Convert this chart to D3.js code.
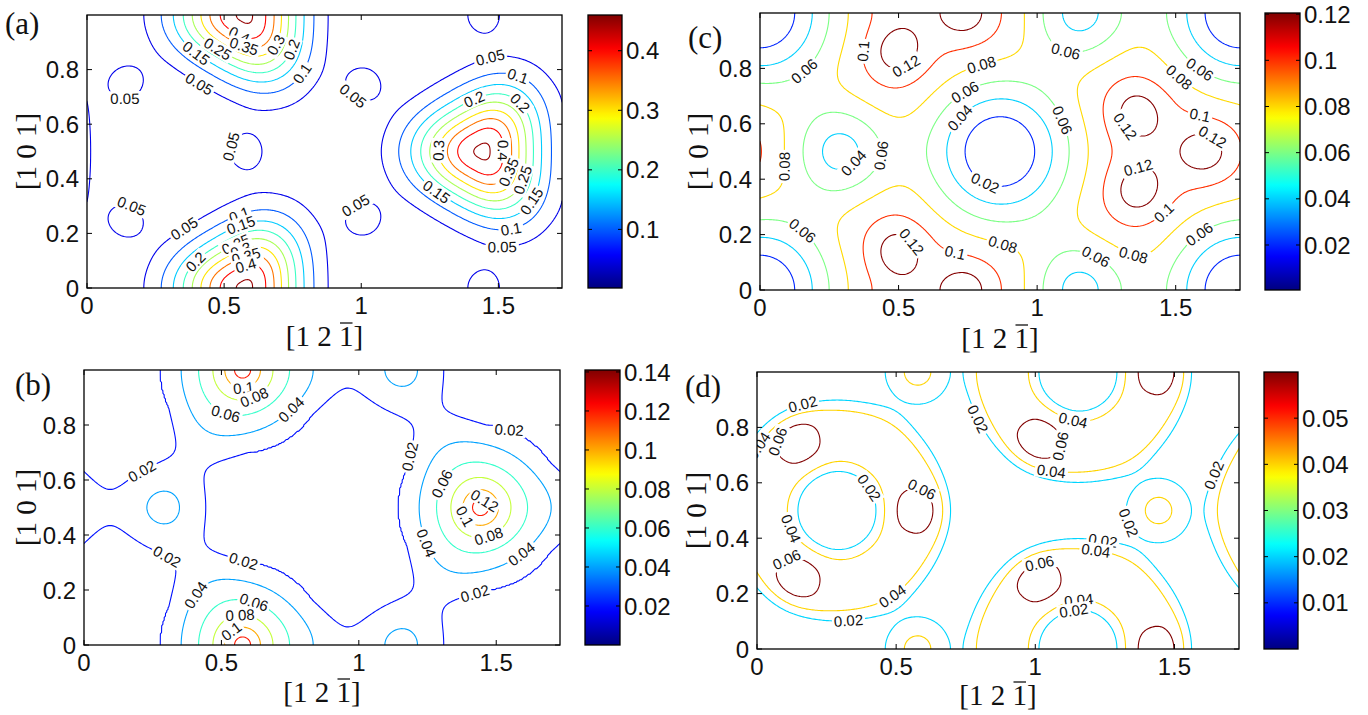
<!DOCTYPE html>
<html>
<head>
<meta charset="utf-8">
<script src="https://cdn.jsdelivr.net/npm/d3@7"></script>
<style>
body { margin: 0; background: #fff; }
svg text { font-family: "Liberation Sans", Arial, sans-serif; fill: #111; }
.serif { font-family: "Liberation Serif", "Times New Roman", serif; }
</style>
</head>
<body>
<svg id="fig" width="1368" height="715"></svg>
<script>
const SQ3 = Math.sqrt(3);   // length of the [1 2 -1] side

const xTicks = [0, 0.5, 1, 1.5];
const yTicks = [0, 0.2, 0.4, 0.6, 0.8];

// each site: x, y, height, width, triangularity, power, ring radius
// panel (a)
const baseA = 0;
const sitesA = [
  [0.577, 0.0, 0.458, 0.158, 0.1],
  [1.443, 0.5, 0.458, 0.158, 0.1],
  [0.577, 0.5, 0.065, 0.065, 0],
  [1.443, 0.0, 0.065, 0.065, 0],
  [1.010, 0.25, 0.065, 0.065, 0],
  [1.010, 0.75, 0.065, 0.065, 0],
  [0.144, 0.25, 0.065, 0.065, 0],
  [0.144, 0.75, 0.065, 0.065, 0]
];
const levelsA = [0.05, 0.1, 0.15, 0.2, 0.25, 0.3, 0.35, 0.4, 0.45];
const cbarRangeA = [0.0016, 0.46];
const cbarTicksA = [0.1, 0.2, 0.3, 0.4];
const labelsA = [
  [0.557,0.93,0.4],[0.573,0.886,0.35],[0.691,0.889,0.3],[0.462,0.852,0.25],[0.754,0.87,0.2],
  [0.383,0.84,0.15],[0.778,0.79,0.1],[0.399,0.73,0.05],[0.138,0.706,0.05],[1.0,0.742,0.05],
  [0.533,0.516,0.05],[1.474,0.828,0.05],[1.57,0.773,0.1],[1.403,0.712,0.2],[1.577,0.675,0.2],
  [1.284,0.504,0.3],[1.514,0.504,0.4],[1.522,0.431,0.35],[1.593,0.394,0.25],[1.261,0.333,0.15],
  [1.617,0.321,0.15],[1.545,0.223,0.1],[1.514,0.175,0.05],[0.161,0.297,0.05],[1.008,0.254,0.05],
  [0.351,0.223,0.05],[0.549,0.284,0.1],[0.557,0.242,0.15],[0.533,0.181,0.25],[0.557,0.15,0.3],
  [0.581,0.114,0.35],[0.581,0.077,0.4],[0.391,0.101,0.2]
];

// panel (b)
const baseB = 0;
const sitesB = [
  [0.577, 0.0, 0.078, 0.05, 0, 1],
  [1.443, 0.5, 0.078, 0.05, 0, 1],
  [0.577, 0.0, 0.062, 0.19, 0],
  [1.443, 0.5, 0.062, 0.19, 0],
  [1.155, 0.0, 0.043, 0.11, 0],
  [0.289, 0.5, 0.043, 0.11, 0],
  [0.0, 0.5, 0.009, 0.1, 0],
  [0.433, 0.75, 0.009, 0.1, 0],
  [0.433, 0.25, 0.009, 0.1, 0],
  [1.299, 0.25, 0.009, 0.1, 0],
  [1.299, 0.75, 0.009, 0.1, 0],
  [0.866, 0.0, 0.009, 0.1, 0]
];
const levelsB = [0.02, 0.04, 0.06, 0.08, 0.1, 0.12, 0.14];
const cbarRangeB = [0, 0.141];
const cbarTicksB = [0.02, 0.04, 0.06, 0.08, 0.1, 0.12, 0.14];
const labelsB = [
  [0.583,0.9,0.1],[0.63,0.876,0.08],[0.512,0.828,0.06],[0.764,0.846,0.04],[1.551,0.792,0.02],
  [1.173,0.688,0.02],[0.213,0.628,0.02],[1.291,0.592,0.06],[1.465,0.537,0.12],[1.346,0.446,0.1],
  [1.48,0.373,0.08],[1.236,0.367,0.04],[1.606,0.313,0.04],[0.283,0.288,0.02],[0.583,0.313,0.02],
  [1.425,0.179,0.02],[0.402,0.185,0.04],[0.622,0.167,0.06],[0.567,0.125,0.08],[0.512,0.082,0.1]
];

// panel (c)
const baseC = 0.1;
const sitesC = [
  [0.0, 0.0, -0.1, 0.19, 0],
  [0.866, 0.5, -0.1, 0.19, 0],
  [1.155, 0.0, -0.07, 0.13, 0],
  [0.289, 0.5, -0.07, 0.13, 0],
  [0.577, 0.0, 0.013, 0.22, -0.25],
  [1.443, 0.5, 0.013, 0.22, -0.25],
  [0.742, 0.0, 0.025, 0.07, 0],
  [0.4945, 0.1429, 0.025, 0.07, 0],
  [0.4945, 0.8571, 0.025, 0.07, 0],
  [1.608, 0.5, 0.025, 0.07, 0],
  [1.3605, 0.6429, 0.025, 0.07, 0],
  [1.3605, 0.3571, 0.025, 0.07, 0]
];
const levelsC = [0.02, 0.04, 0.06, 0.08, 0.1, 0.12];
const cbarRangeC = [0.0005, 0.1205];
const cbarTicksC = [0.02, 0.04, 0.06, 0.08, 0.1, 0.12];
const labelsC = [
  [0.35,0.864,0.1],[0.516,0.828,0.12],[0.153,0.798,0.06],[0.8,0.81,0.08],[0.737,0.719,0.06],
  [0.721,0.622,0.04],[1.107,0.876,0.06],[1.588,0.798,0.06],[1.517,0.773,0.08],[1.596,0.67,0.1],
  [1.328,0.598,0.12],[1.62,0.531,0.12],[1.375,0.404,0.12],[1.084,0.61,0.06],[0.082,0.446,0.08],
  [0.326,0.47,0.04],[0.421,0.488,0.06],[0.815,0.392,0.02],[1.478,0.258,0.1],[1.588,0.198,0.06],
  [1.352,0.143,0.08],[0.145,0.204,0.06],[0.524,0.155,0.12],[0.713,0.173,0.1],[0.871,0.149,0.08],
  [1.202,0.101,0.06]
];

// panel (d)
const baseD = 0;
const sitesD = [
  [0.289, 0.5, 0.05, 0.11, 0, 4, 0.27],
  [1.155, 0.0, 0.05, 0.11, 0, 4, 0.27],
  [0.577, 0.5, 0.02, 0.07, 0],
  [1.443, 0.0, 0.02, 0.07, 0],
  [1.010, 0.25, 0.02, 0.07, 0],
  [1.010, 0.75, 0.02, 0.07, 0],
  [0.144, 0.25, 0.02, 0.07, 0],
  [0.144, 0.75, 0.02, 0.07, 0],
  [0.577, 0.0, 0.046, 0.09, 0],
  [1.443, 0.5, 0.046, 0.09, 0]
];
const levelsD = [0.02, 0.04, 0.06];
const cbarRangeD = [0, 0.06];
const cbarTicksD = [0.01, 0.02, 0.03, 0.04, 0.05];
const labelsD = [
  [0.162,0.893,0.02],[0.028,0.719,0.04],[0.091,0.743,0.06],[0.8,0.833,0.02],[1.131,0.803,0.04],
  [1.068,0.737,0.06],[1.06,0.659,0.04],[1.65,0.624,0.02],[0.359,0.552,0.02],[0.58,0.552,0.06],
  [1.351,0.462,0.02],[0.091,0.42,0.04],[1.241,0.378,0.02],[0.123,0.288,0.06],[1.02,0.288,0.06],
  [1.209,0.294,0.04],[0.461,0.228,0.04],[1.154,0.198,0.04],[0.328,0.114,0.02],[1.146,0.09,0.02]
];

const panels = [
  {name: "a", base: baseA, sites: sitesA, levels: levelsA, range: cbarRangeA, cbTicks: cbarTicksA, labels: labelsA,
   plot: [87, 15, 562, 288], cbar: [588, 15, 622, 288], letter: [5, 34], xlab: 346, ylab: 36},
  {name: "c", base: baseC, sites: sitesC, levels: levelsC, range: cbarRangeC, cbTicks: cbarTicksC, labels: labelsC,
   plot: [760, 13, 1240, 290], cbar: [1265, 13, 1300, 290], letter: [688, 48], xlab: 348, ylab: 708},
  {name: "b", base: baseB, sites: sitesB, levels: levelsB, range: cbarRangeB, cbTicks: cbarTicksB, labels: labelsB,
   plot: [84, 370, 560, 645], cbar: [585, 370, 620, 645], letter: [15, 395], xlab: 702, ylab: 36},
  {name: "d", base: baseD, sites: sitesD, levels: levelsD, range: cbarRangeD, cbTicks: cbarTicksD, labels: labelsD,
   plot: [757, 372, 1239, 649], cbar: [1264, 372, 1298, 649], letter: [685, 397], xlab: 705, ylab: 706}
];

const NX = 347, NY = 201;
const svg = d3.select("#fig");
const defs = svg.append("defs");

function jet(t) {
  const c = v => Math.max(0, Math.min(1, v));
  return d3.rgb(255 * c(1.5 - Math.abs(4 * t - 3)), 255 * c(1.5 - Math.abs(4 * t - 2)), 255 * c(1.5 - Math.abs(4 * t - 1)));
}

function field(sites, base, x, y) {
  let v = base;
  for (const s of sites) {
    const [sx, sy, h, w, e] = s;
    const p = s[5] || 2, R = s[6] || 0;
    for (let ix = -1; ix <= 1; ix++) {
      for (let iy = -1; iy <= 1; iy++) {
        const dx = x - (sx + ix * SQ3), dy = y - (sy + iy);
        let r = Math.sqrt(dx * dx + dy * dy);
        if (Math.abs(r - R) - Math.abs(e) * r > 6 * w) continue;
        if (e) r *= 1 + e * Math.cos(3 * Math.atan2(dy, dx));
        v += h * Math.exp(-0.5 * Math.pow(Math.abs(r - R) / w, p));
      }
    }
  }
  return v;
}

function drawPanel(p) {
  const [x0, y0, x1, y1] = p.plot;
  const xs = d3.scaleLinear().domain([0, SQ3]).range([x0, x1]);
  const ys = d3.scaleLinear().domain([0, 1]).range([y1, y0]);
  const color = v => jet((v - p.range[0]) / (p.range[1] - p.range[0]));

  const vals = new Float64Array(NX * NY);
  for (let j = 0; j < NY; j++) {
    const y = j / (NY - 1);
    for (let i = 0; i < NX; i++) vals[j * NX + i] = field(p.sites, p.base, i / (NX - 1) * SQ3, y);
  }
  const contours = d3.contours().size([NX, NY]).thresholds(p.levels)(vals);
  const toPx = (gx, gy) => [xs((gx - 0.5) / (NX - 1) * SQ3), ys((gy - 0.5) / (NY - 1))];
  const path = d3.geoPath(d3.geoTransform({
    point: function(gx, gy) { const q = toPx(gx, gy); this.stream.point(q[0], q[1]); }
  }));

  defs.append("clipPath").attr("id", "clip" + p.name)
    .append("rect").attr("x", x0).attr("y", y0).attr("width", x1 - x0).attr("height", y1 - y0);
  const g = svg.append("g").attr("clip-path", "url(#clip" + p.name + ")");

  g.selectAll("path.c").data(contours).join("path")
    .attr("class", "c")
    .attr("d", path)
    .attr("fill", "none")
    .attr("stroke", d => color(d.value))
    .attr("stroke-width", 1.1);

  // inline labels, turned along the nearest line of their level
  p.labels.forEach(([lx, ly, lev]) => {
    const tx = xs(lx), ty = ys(ly);
    const c = contours.find(d => Math.abs(d.value - lev) < 1e-9);
    let best = null, bd = 26;
    if (c) {
      c.coordinates.forEach(poly => poly.forEach(ring => {
        const pts = ring.map(q => toPx(q[0], q[1]));
        for (let k = 1; k < pts.length; k++) {
          const [ax, ay] = pts[k - 1], [bx, by] = pts[k];
          const vx = bx - ax, vy = by - ay, L = vx * vx + vy * vy;
          if (L === 0) continue;
          let u = ((tx - ax) * vx + (ty - ay) * vy) / L;
          u = Math.max(0, Math.min(1, u));
          const px = ax + u * vx, py = ay + u * vy;
          const dist = Math.hypot(px - tx, py - ty);
          if (dist < bd && px > x0 && px < x1 && py > y0 && py < y1) {
            bd = dist; best = [px, py, Math.atan2(vy, vx) * 180 / Math.PI];
          }
        }
      }));
    }
    let [px, py, ang] = best || [tx, ty, 0];
    if (ang > 90) ang -= 180;
    if (ang < -90) ang += 180;
    const lg = g.append("g").attr("transform", `translate(${px},${py}) rotate(${ang})`);
    const t = lg.append("text").attr("text-anchor", "middle").attr("dy", "0.36em")
      .style("font-size", "15px").text(String(lev));
    const w = t.node().getComputedTextLength();
    lg.insert("rect", "text").attr("x", -w / 2 - 2).attr("y", -7.5).attr("width", w + 4).attr("height", 15).attr("fill", "#fff");
  });

  // frame and inward ticks
  const ax = svg.append("g").attr("stroke", "#000").attr("stroke-width", 1);
  xTicks.forEach(t => {
    ax.append("line").attr("x1", xs(t)).attr("x2", xs(t)).attr("y1", y1).attr("y2", y1 - 5);
    ax.append("line").attr("x1", xs(t)).attr("x2", xs(t)).attr("y1", y0).attr("y2", y0 + 5);
  });
  yTicks.forEach(t => {
    ax.append("line").attr("x1", x0).attr("x2", x0 + 5).attr("y1", ys(t)).attr("y2", ys(t));
    ax.append("line").attr("x1", x1).attr("x2", x1 - 5).attr("y1", ys(t)).attr("y2", ys(t));
  });
  ax.append("rect").attr("x", x0).attr("y", y0).attr("width", x1 - x0).attr("height", y1 - y0)
    .attr("fill", "none").attr("stroke-width", 1.3);

  svg.append("g").selectAll("text").data(xTicks).join("text")
    .attr("x", d => xs(d)).attr("y", y1 + 26).attr("text-anchor", "middle")
    .style("font-size", "24px").text(d => String(d));
  svg.append("g").selectAll("text").data(yTicks).join("text")
    .attr("x", x0 - 8).attr("y", d => ys(d)).attr("dy", "0.36em").attr("text-anchor", "end")
    .style("font-size", "24px").text(d => String(d));

  // axis titles
  const xt = svg.append("text").attr("class", "serif").attr("x", (x0 + x1) / 2).attr("y", p.xlab)
    .attr("text-anchor", "middle").attr("xml:space", "preserve").style("font-size", "29px").text("[1 2 1]");
  const ext = xt.node().getExtentOfChar(5);
  svg.append("line").attr("x1", ext.x + 1).attr("x2", ext.x + ext.width - 1)
    .attr("y1", ext.y + 3).attr("y2", ext.y + 3).attr("stroke", "#111").attr("stroke-width", 1.3);
  svg.append("text").attr("class", "serif")
    .attr("transform", `translate(${p.ylab},${(y0 + y1) / 2}) rotate(-90)`)
    .attr("text-anchor", "middle").attr("xml:space", "preserve").style("font-size", "29px").text("[1 0 1]");
  svg.append("text").attr("class", "serif").attr("x", p.letter[0]).attr("y", p.letter[1])
    .style("font-size", "31px").text("(" + p.name + ")");

  // colour bar
  const [c0, cy0, c1, cy1] = p.cbar;
  const grad = defs.append("linearGradient").attr("id", "grad" + p.name)
    .attr("x1", 0).attr("y1", 1).attr("x2", 0).attr("y2", 0);
  d3.range(0, 1.0001, 0.02).forEach(t => grad.append("stop").attr("offset", t).attr("stop-color", jet(t)));
  svg.append("rect").attr("x", c0).attr("y", cy0).attr("width", c1 - c0).attr("height", cy1 - cy0)
    .attr("fill", "url(#grad" + p.name + ")").attr("stroke", "#000").attr("stroke-width", 1.3);
  const cs = d3.scaleLinear().domain(p.range).range([cy1, cy0]);
  const cb = svg.append("g").attr("stroke", "#000");
  p.cbTicks.forEach(t => {
    cb.append("line").attr("x1", c0).attr("x2", c0 + 4).attr("y1", cs(t)).attr("y2", cs(t));
    cb.append("line").attr("x1", c1).attr("x2", c1 - 4).attr("y1", cs(t)).attr("y2", cs(t));
  });
  svg.append("g").selectAll("text").data(p.cbTicks).join("text")
    .attr("x", c1 + 4).attr("y", d => cs(d)).attr("dy", "0.36em")
    .style("font-size", "24px").text(d => String(d));
}

panels.forEach(drawPanel);
</script>
</body>
</html>
